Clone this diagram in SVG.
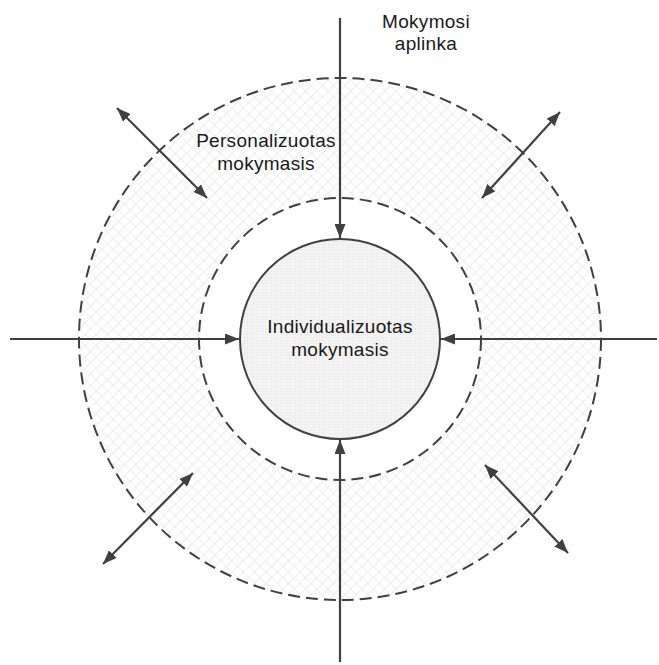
<svg xmlns="http://www.w3.org/2000/svg" width="659" height="665" viewBox="0 0 659 665">
  <style>
    .lbl { font-family: "Liberation Sans", Arial, sans-serif; font-size: 19px; letter-spacing: 0.3px; fill: #1a1a1a; text-anchor: middle; }
    .dash { fill: none; stroke: #404040; stroke-width: 2; stroke-dasharray: 12 6; }
    .conn { fill: none; stroke: #404040; stroke-width: 2.2; }
  </style>
  <defs>
    <pattern id="hatch" width="8" height="8" patternUnits="userSpaceOnUse" patternTransform="rotate(45)">
      <rect width="8" height="8" fill="#ffffff"/>
      <path d="M0,0 H8 M0,0 V8" stroke="#e2e2e2" stroke-width="1.2"/>
    </pattern>
    <pattern id="dots" width="3" height="3" patternUnits="userSpaceOnUse">
      <rect width="3" height="3" fill="#f3f3f3"/>
      <rect x="1" y="1" width="1" height="1" fill="#e4e4e4"/>
    </pattern>
    <marker id="head" viewBox="0 0 14 11" refX="14" refY="5.5" markerWidth="14" markerHeight="11" markerUnits="userSpaceOnUse" orient="auto-start-reverse">
      <path d="M0,0 L14,5.5 L0,11 z" fill="#404040"/>
    </marker>
  </defs>

  <!-- hatched ring between the two dashed circles -->
  <g id="ring">
    <path d="M79,339 a261,261 0 1,0 522,0 a261,261 0 1,0 -522,0 Z M199,339 a141,141 0 1,0 282,0 a141,141 0 1,0 -282,0 Z" fill="url(#hatch)" fill-rule="evenodd"/>
  </g>

  <g id="outer-circle">
    <circle cx="340" cy="339" r="261" class="dash"/>
  </g>
  <g id="inner-circle">
    <circle cx="340" cy="339" r="141" class="dash"/>
  </g>

  <g id="connectors">
    <line x1="340" y1="18" x2="340" y2="238" class="conn" marker-end="url(#head)"/>
    <line x1="340" y1="662" x2="340" y2="440" class="conn" marker-end="url(#head)"/>
    <line x1="10" y1="339" x2="239" y2="339" class="conn" marker-end="url(#head)"/>
    <line x1="657" y1="339" x2="441" y2="339" class="conn" marker-end="url(#head)"/>
    <line x1="117" y1="108" x2="207" y2="198" class="conn" marker-start="url(#head)" marker-end="url(#head)"/>
    <line x1="560" y1="112" x2="482" y2="198" class="conn" marker-start="url(#head)" marker-end="url(#head)"/>
    <line x1="193" y1="473" x2="103" y2="564" class="conn" marker-start="url(#head)" marker-end="url(#head)"/>
    <line x1="485" y1="465" x2="568" y2="553" class="conn" marker-start="url(#head)" marker-end="url(#head)"/>
  </g>

  <g id="core">
    <circle cx="340" cy="339" r="100" fill="url(#dots)" stroke="#404040" stroke-width="2"/>
    <text class="lbl" x="340" y="333">Individualizuotas</text>
    <text class="lbl" x="340" y="356">mokymasis</text>
  </g>

  <g id="label-personalized">
    <text class="lbl" x="266" y="147">Personalizuotas</text>
    <text class="lbl" x="266" y="170">mokymasis</text>
  </g>

  <g id="label-environment">
    <text class="lbl" x="426" y="28">Mokymosi</text>
    <text class="lbl" x="426" y="50">aplinka</text>
  </g>
</svg>
